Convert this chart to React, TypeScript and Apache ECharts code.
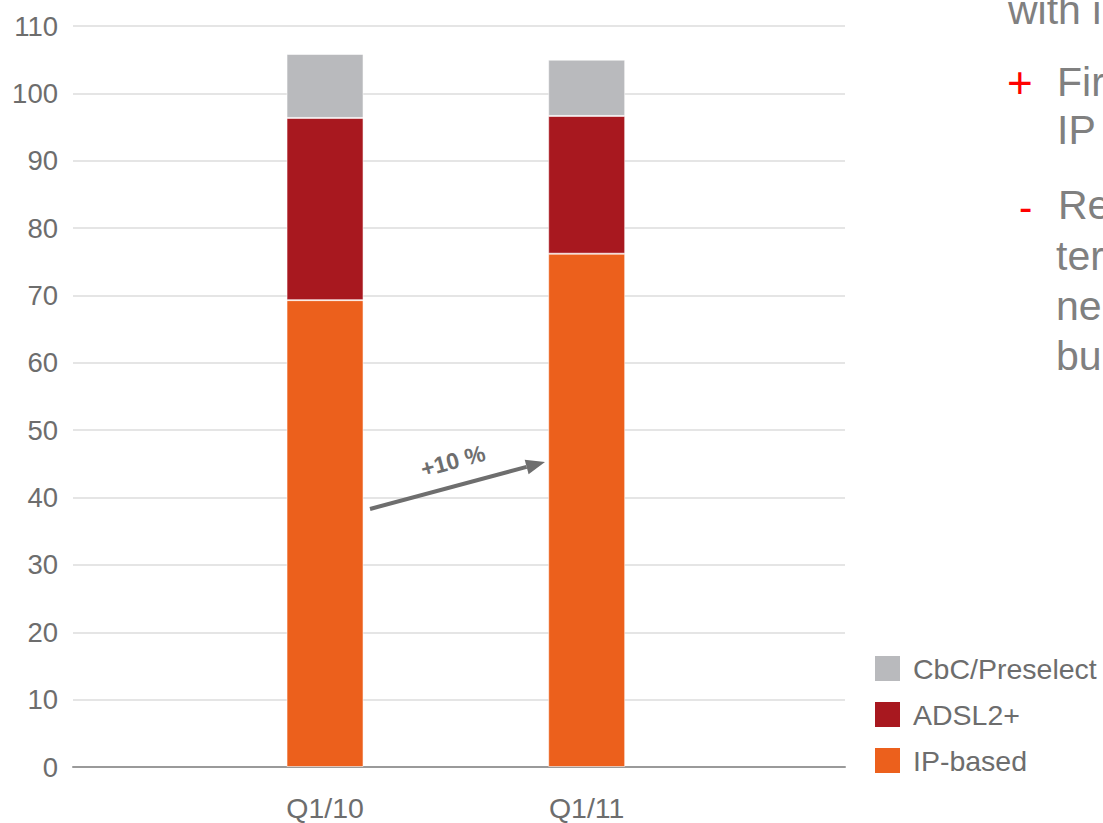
import React, { useEffect, useRef } from "react";
import * as echarts from "echarts";

const categories = ["Q1/10", "Q1/11"];
const ipBased = [69.3, 76.2];
const adsl2 = [27.05, 20.45];
const cbc = [9.5, 8.35];
const yTicks = { min: 0, max: 110, interval: 10 };
const legendOrder = ["CbC/Preselect", "ADSL2+", "IP-based"];
const growthLabel = "+10 %";
const sideLines = [
  { text: "with i", x: 1008, y: 25 },
  { text: "Fir", x: 1057, y: 97 },
  { text: "IP", x: 1057, y: 145 },
  { text: "Re", x: 1058, y: 220 },
  { text: "ter", x: 1056, y: 271 },
  { text: "ne", x: 1056, y: 321 },
  { text: "bu", x: 1056, y: 371 },
];

const FONT = "'Liberation Sans', Arial, Helvetica, sans-serif";
const GREY_TEXT = "#6d6d6d";

export default function App() {
  const ref = useRef<HTMLDivElement>(null);
  useEffect(() => {
    document.body.style.margin = "0";
    if (!ref.current) return;
    const chart = echarts.init(ref.current, null, { renderer: "svg" });

    // arrow geometry (annotation)
    const sx = 370, sy = 509, tx = 545, ty = 462;
    const dx = tx - sx, dy = ty - sy;
    const len = Math.sqrt(dx * dx + dy * dy);
    const ux = dx / len, uy = dy / len;
    const headLen = 19, headW = 7.5;
    const bx = tx - ux * headLen, by = ty - uy * headLen;
    const nx = -uy * headW, ny = ux * headW;

    const barStyle = (color: string) => ({
      color,
      borderColor: "rgba(255,255,255,0.55)",
      borderWidth: 1,
    });

    chart.setOption({
      animation: false,
      textStyle: { fontFamily: FONT },
      grid: [
        { left: 73, right: 258, top: 26, bottom: 56 },
        { left: 194.2, right: 385.5, top: 26, bottom: 56 },
      ],
      xAxis: [
        {
          type: "category",
          gridIndex: 0,
          data: [""],
          axisLine: { show: true, lineStyle: { color: "#9a9a9a", width: 2 } },
          axisTick: { show: false },
          axisLabel: { show: false },
          splitLine: { show: false },
        },
        {
          type: "category",
          gridIndex: 1,
          data: categories,
          axisLine: { show: false },
          axisTick: { show: false },
          axisLabel: {
            fontSize: 28.5,
            color: GREY_TEXT,
            margin: 26,
            fontFamily: FONT,
          },
        },
      ],
      yAxis: [
        {
          type: "value",
          gridIndex: 0,
          min: yTicks.min,
          max: yTicks.max,
          interval: yTicks.interval,
          axisLine: { show: false },
          axisTick: { show: false },
          axisLabel: { fontSize: 27.5, color: GREY_TEXT, margin: 15, fontFamily: FONT },
          splitLine: { lineStyle: { color: "#dcdcdc", width: 1.5 } },
        },
        {
          type: "value",
          gridIndex: 1,
          min: yTicks.min,
          max: yTicks.max,
          interval: yTicks.interval,
          show: false,
          splitLine: { show: false },
        },
      ],
      legend: {
        data: legendOrder,
        orient: "vertical",
        left: 870,
        top: 649,
        icon: "rect",
        itemWidth: 25,
        itemHeight: 25,
        itemGap: 17,
        itemStyle: { borderWidth: 0 },
        textStyle: {
          fontSize: 28.5,
          color: GREY_TEXT,
          fontFamily: FONT,
          padding: [0, 0, 0, 8],
        },
        selectedMode: false,
      },
      series: [
        {
          name: "IP-based",
          type: "bar",
          xAxisIndex: 1,
          yAxisIndex: 1,
          stack: "total",
          barWidth: 77,
          data: ipBased,
          itemStyle: barStyle("#ec601c"),
        },
        {
          name: "ADSL2+",
          type: "bar",
          xAxisIndex: 1,
          yAxisIndex: 1,
          stack: "total",
          barWidth: 77,
          data: adsl2,
          itemStyle: barStyle("#a8181f"),
        },
        {
          name: "CbC/Preselect",
          type: "bar",
          xAxisIndex: 1,
          yAxisIndex: 1,
          stack: "total",
          barWidth: 77,
          data: cbc,
          itemStyle: barStyle("#b9babd"),
        },
      ],
      graphic: [
        {
          type: "line",
          shape: { x1: sx, y1: sy, x2: bx, y2: by },
          style: { stroke: "#6e6e6e", lineWidth: 4 },
          z: 100,
        },
        {
          type: "polygon",
          shape: {
            points: [
              [tx, ty],
              [bx + nx, by + ny],
              [bx - nx, by - ny],
            ],
          },
          style: { fill: "#6e6e6e" },
          z: 100,
        },
        {
          type: "text",
          x: 453,
          y: 461,
          rotation: 0.26,
          style: {
            text: growthLabel,
            fill: "#6e6e6e",
            font: `bold 23px ${FONT}`,
            align: "center",
            verticalAlign: "middle",
          },
          z: 100,
        },
        {
          type: "text",
          x: 1007,
          y: 82,
          style: {
            text: "+",
            fill: "#ff0000",
            font: `44px ${FONT}`,
            verticalAlign: "middle",
          },
        },
        {
          type: "text",
          x: 1019,
          y: 207,
          style: {
            text: "-",
            fill: "#ff0000",
            font: `40px ${FONT}`,
            verticalAlign: "middle",
          },
        },
        ...sideLines.map((l) => ({
          type: "text",
          x: l.x,
          y: l.y + 5,
          style: {
            text: l.text,
            fill: "#808080",
            font: `41px ${FONT}`,
            verticalAlign: "bottom",
          },
        })),
      ],
    });
    return () => chart.dispose();
  }, []);
  return <div ref={ref} style={{ width: 1103, height: 823 }} />;
}
